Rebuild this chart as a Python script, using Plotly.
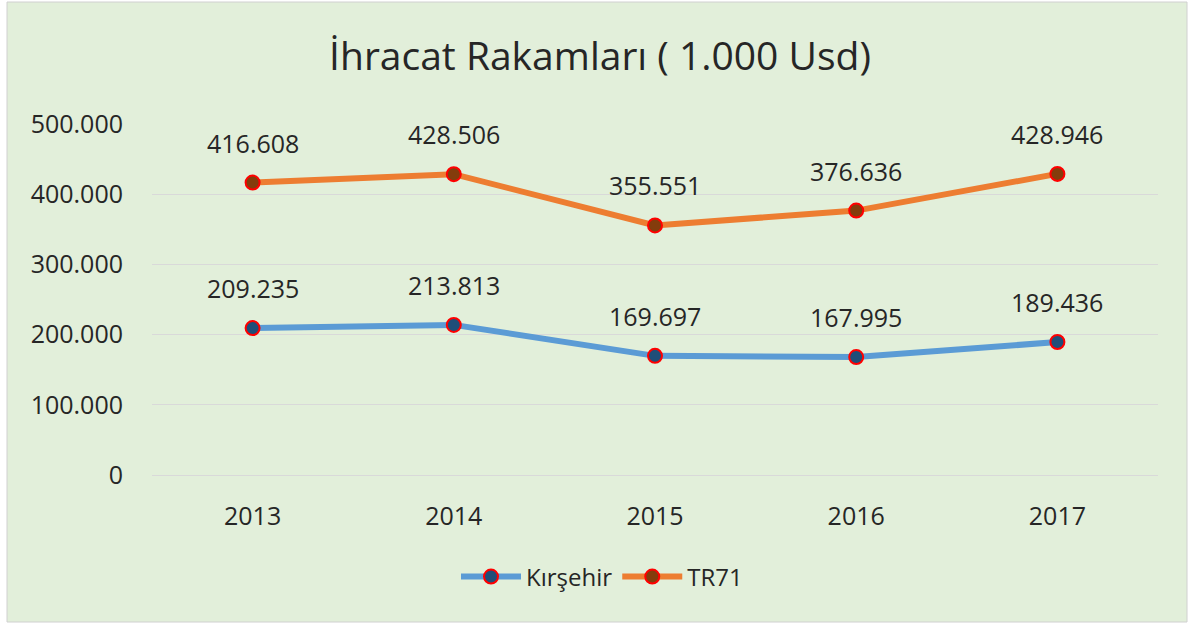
import plotly.graph_objects as go

years = ["2013", "2014", "2015", "2016", "2017"]
kirsehir = [209235, 213813, 169697, 167995, 189436]
tr71 = [416608, 428506, 355551, 376636, 428946]
y_ticks = [0, 100000, 200000, 300000, 400000, 500000]

FONT = "Open Sans"
TXT = "#262626"
BG = "#E2EFDA"

fig = go.Figure()
series = [
    ("Kırşehir", kirsehir, "#5B9BD5", "#1F4E79"),
    ("TR71", tr71, "#ED7D31", "#843C0C"),
]
annotations = []
for name, vals, lc, mc in series:
    fig.add_trace(go.Scatter(
        x=years, y=vals, name=name, mode="lines+markers",
        line=dict(color=lc, width=6),
        marker=dict(size=14, color=mc, line=dict(color="#FF0000", width=2)),
    ))
    for i, yv in enumerate(vals):
        annotations.append(dict(
            x=i, y=yv, xref="x", yref="y", showarrow=False,
            text=f"{yv:,}".replace(",", "."), yshift=40,
            font=dict(family=FONT, size=25, color=TXT),
        ))

L, R, T, B = 152, 32, 124, 151
W, H = 1190, 626
pw, ph = W - L - R, H - T - B

def px_x(p):
    return (p - L) / pw

def px_y(p):
    return (H - B - p) / ph

fig.add_shape(
    type="rect", xref="paper", yref="paper",
    x0=px_x(7), x1=px_x(1187), y0=px_y(622), y1=px_y(2),
    fillcolor=BG, line=dict(color="#D0D0D0", width=1), layer="below",
)

fig.update_layout(
    width=W, height=H,
    margin=dict(l=L, r=R, t=T, b=B),
    paper_bgcolor="white", plot_bgcolor="rgba(0,0,0,0)",
    separators=",.",
    annotations=annotations,
    title=dict(
        text="İhracat Rakamları ( 1.000 Usd)",
        x=px_x(600), xanchor="center", xref="paper",
        y=1 - 56 / H, yanchor="middle",
        font=dict(family=FONT, size=39, color=TXT),
    ),
    font=dict(family=FONT, color=TXT),
    showlegend=True,
    legend=dict(
        orientation="h", x=px_x(602), xanchor="center",
        y=px_y(577), yanchor="middle",
        font=dict(family=FONT, size=24, color=TXT),
        bgcolor="rgba(0,0,0,0)", itemwidth=60,
    ),
    xaxis=dict(
        type="category", range=[-0.5, 4.5],
        showgrid=False, showline=False, ticks="", zeroline=False,
        tickfont=dict(family=FONT, size=25, color=TXT),
        ticklabelstandoff=24,
    ),
    yaxis=dict(
        range=[0, 500000], tickvals=y_ticks, tickformat=",d",
        showgrid=True, gridcolor="#D9D9D9", gridwidth=1,
        zeroline=True, zerolinecolor="#D9D9D9", zerolinewidth=1,
        showline=False, ticks="",
        tickfont=dict(family=FONT, size=25, color=TXT),
        ticklabelstandoff=28,
    ),
)

fig.write_html(
    "out.html",
    config={"displayModeBar": False},
    post_script="document.body.style.margin='0';document.body.style.padding='0';",
)
